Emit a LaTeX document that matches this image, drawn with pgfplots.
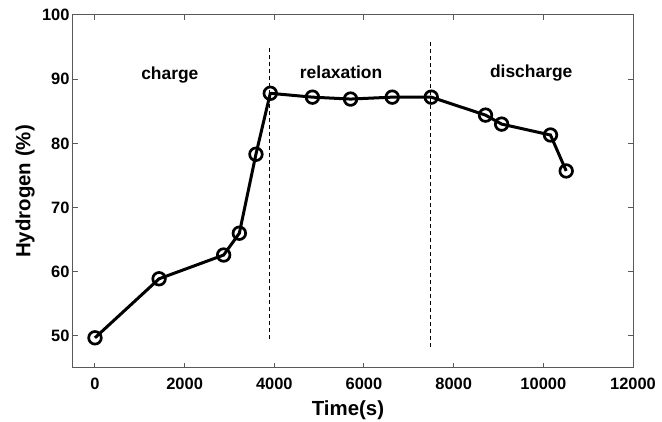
\documentclass[border=0pt]{standalone}
\usepackage{fontspec}
\setmainfont{Liberation Sans}
\usepackage{pgfplots}
\pgfplotsset{compat=1.18}
\begin{document}
\begin{tikzpicture}
\begin{axis}[
  scale only axis,
  width=560bp, height=353bp,
  xmin=-490, xmax=12000,
  ymin=45, ymax=100,
  xtick={0,2000,...,12000},
  ytick={50,60,...,100},
  scaled x ticks=false,
  /pgf/number format/assume math mode=true,
  /pgf/number format/1000 sep={},
  tick label style={font=\fontsize{16.5}{18}\selectfont\bfseries},
  xticklabel style={yshift=-7bp},
  tick align=inside,
  major tick length=5bp,
  axis line style={black!65, line width=1bp},
  every tick/.style={black!65, line width=1bp},
  xlabel={Time(s)},
  ylabel={Hydrogen (\%)},
  label style={font=\fontsize{20.5}{24}\selectfont\bfseries},
  xlabel style={at={(axis description cs:0.5,0)}, anchor=north, yshift=-33bp, xshift=-5bp, inner sep=0pt},
  ylabel style={at={(axis description cs:-0.068,0.5)}, anchor=south, inner sep=0pt},
  clip=false,
]
\coordinate (sw) at (rel axis cs:0,0);
\coordinate (ne) at (rel axis cs:1,1);
\addplot[black, line width=0.8bp, dash pattern=on 4bp off 3bp] coordinates {(3880,49.5) (3880,95)};
\addplot[black, line width=0.8bp, dash pattern=on 4bp off 3bp] coordinates {(7480,48.3) (7480,96)};
\addplot[black, line width=3bp, mark=o, mark size=6.3bp,
  mark options={fill=white, line width=2.7bp, solid}] coordinates {
(0,49.7) (1430,58.9) (2870,62.6) (3220,66.0) (3590,78.3) (3910,87.8)
(4850,87.2) (5700,86.9) (6630,87.2) (7500,87.2) (8710,84.4) (9070,83.0)
(10160,81.3) (10510,75.7)
};
\node[font=\fontsize{17.5}{20}\selectfont\bfseries] at (axis cs:1670,90.6) {charge};
\node[font=\fontsize{17.5}{20}\selectfont\bfseries] at (axis cs:5490,91.1) {relaxation};
\node[font=\fontsize{17.5}{20}\selectfont\bfseries] at (axis cs:9730,91.0) {discharge};
\end{axis}
\pgfresetboundingbox
\path ([shift={(-73bp,-54bp)}]sw) rectangle ([shift={(29bp,15bp)}]ne);
\end{tikzpicture}
\end{document}
